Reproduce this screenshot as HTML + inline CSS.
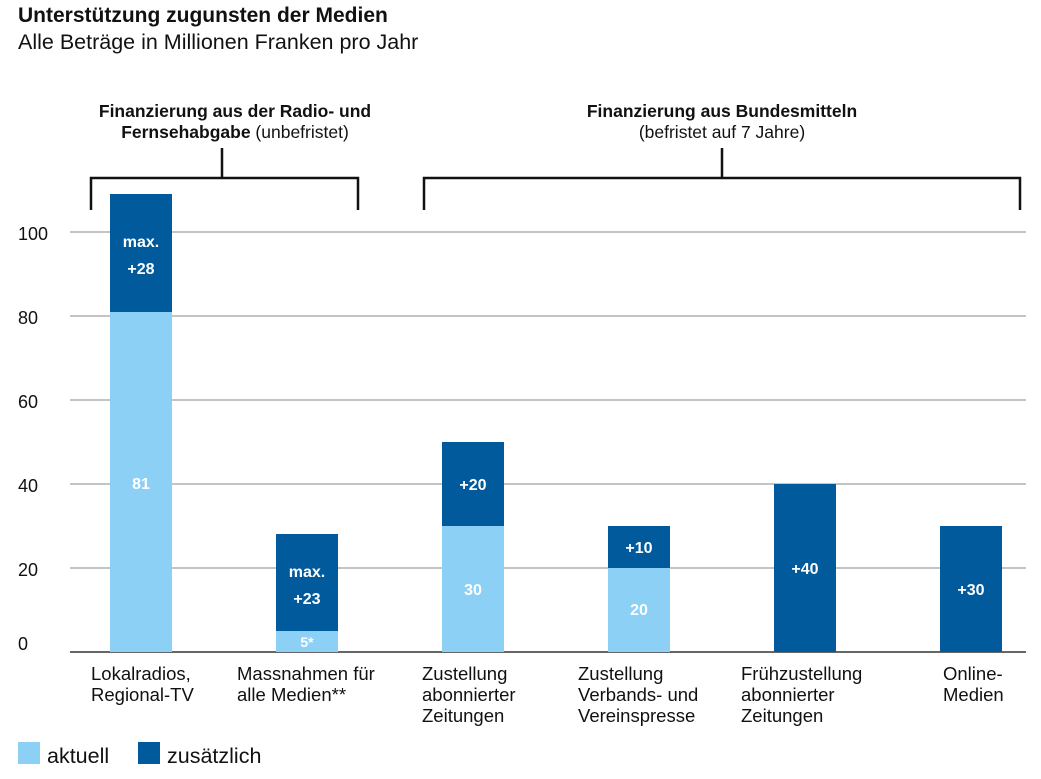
<!DOCTYPE html>
<html><head><meta charset="utf-8"><style>
body{margin:0;background:#fff;}
svg text{font-family:"Liberation Sans",sans-serif;}
</style></head><body>
<svg width="1041" height="774" viewBox="0 0 1041 774" xmlns="http://www.w3.org/2000/svg">
<text x="18" y="22" font-size="21" font-weight="bold" fill="#111">Unterstützung zugunsten der Medien</text>
<text x="18" y="49" font-size="21.5" fill="#111">Alle Beträge in Millionen Franken pro Jahr</text>

<g font-size="17.5" fill="#111" text-anchor="middle">
<text x="235" y="117" font-weight="bold">Finanzierung aus der Radio- und</text>
<text x="235" y="138"><tspan font-weight="bold">Fernsehabgabe</tspan> (unbefristet)</text>
<text x="722" y="117" font-weight="bold">Finanzierung aus Bundesmitteln</text>
<text x="722" y="138">(befristet auf 7 Jahre)</text>
</g>
<g stroke="#111" stroke-width="2.5" fill="none">
<path d="M91 210V178H358V210M222 178V148"/>
<path d="M424 210V178H1020V210M722 178V148"/>
</g>

<g stroke="#888" stroke-width="1">
<line x1="70" x2="1026" y1="232" y2="232"/>
<line x1="70" x2="1026" y1="316" y2="316"/>
<line x1="70" x2="1026" y1="400" y2="400"/>
<line x1="70" x2="1026" y1="484" y2="484"/>
<line x1="70" x2="1026" y1="568" y2="568"/>
</g>
<line x1="70" x2="1026" y1="652" y2="652" stroke="#333" stroke-width="1.5"/>
<g font-size="18" fill="#111">
<text x="18" y="240">100</text><text x="18" y="324">80</text><text x="18" y="408">60</text>
<text x="18" y="492">40</text><text x="18" y="576">20</text><text x="18" y="650">0</text>
</g>

<g>
<rect x="110" y="312" width="62" height="340" fill="#8dd0f5"/>
<rect x="110" y="194" width="62" height="118" fill="#005a9c"/>
<rect x="276" y="631" width="62" height="21" fill="#8dd0f5"/>
<rect x="276" y="534" width="62" height="97" fill="#005a9c"/>
<rect x="442" y="526" width="62" height="126" fill="#8dd0f5"/>
<rect x="442" y="442" width="62" height="84" fill="#005a9c"/>
<rect x="608" y="568" width="62" height="84" fill="#8dd0f5"/>
<rect x="608" y="526" width="62" height="42" fill="#005a9c"/>
<rect x="774" y="484" width="62" height="168" fill="#005a9c"/>
<rect x="940" y="526" width="62" height="126" fill="#005a9c"/>
</g>
<g font-size="16" font-weight="bold" fill="#fff" text-anchor="middle">
<text x="141" y="247">max.</text><text x="141" y="274">+28</text>
<text x="141" y="489">81</text>
<text x="307" y="577">max.</text><text x="307" y="604">+23</text>
<text x="307" y="647" font-size="14">5*</text>
<text x="473" y="490">+20</text><text x="473" y="595">30</text>
<text x="639" y="553">+10</text><text x="639" y="615">20</text>
<text x="805" y="574">+40</text><text x="971" y="595">+30</text>
</g>

<g font-size="18.5" fill="#111">
<text x="91" y="680">Lokalradios,</text><text x="91" y="701">Regional-TV</text>
<text x="237" y="680">Massnahmen für</text><text x="237" y="701">alle Medien**</text>
<text x="422" y="680">Zustellung</text><text x="422" y="701">abonnierter</text><text x="422" y="722">Zeitungen</text>
<text x="578" y="680">Zustellung</text><text x="578" y="701">Verbands- und</text><text x="578" y="722">Vereinspresse</text>
<text x="741" y="680">Frühzustellung</text><text x="741" y="701">abonnierter</text><text x="741" y="722">Zeitungen</text>
<text x="943" y="680">Online-</text><text x="943" y="701">Medien</text>
</g>

<rect x="18" y="742" width="22" height="22" fill="#8dd0f5"/>
<text x="47" y="763" font-size="21.5" fill="#111">aktuell</text>
<rect x="138" y="742" width="22" height="22" fill="#005a9c"/>
<text x="167" y="763" font-size="21.5" fill="#111">zusätzlich</text>
</svg>
</body></html>
